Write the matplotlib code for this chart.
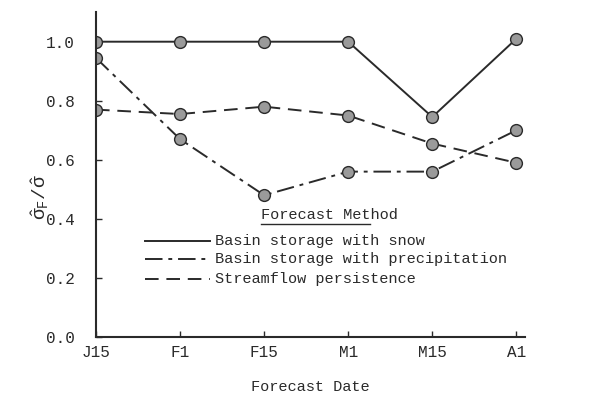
import matplotlib.pyplot as plt
from matplotlib.lines import Line2D

plt.rcParams["font.family"] = ["Liberation Mono", "DejaVu Sans"]
plt.rcParams["mathtext.fontset"] = "custom"
plt.rcParams["mathtext.rm"] = "Liberation Mono"
plt.rcParams["mathtext.it"] = "Liberation Mono"

dates = ["J15", "F1", "F15", "M1", "M15", "A1"]
snow = [1.0, 1.0, 1.0, 1.0, 0.745, 1.01]
precip = [0.945, 0.67, 0.48, 0.56, 0.56, 0.70]
streamflow = [0.77, 0.755, 0.78, 0.75, 0.655, 0.59]

ink = "#2a2a2a"
x = range(len(dates))

fig = plt.figure(figsize=(5.98, 4.03), dpi=100)
ax = fig.add_axes([0.1605, 0.1638, 0.717, 0.806])

mk = dict(marker="o", markersize=8.5, markerfacecolor="#9a9a9a",
          markeredgecolor=ink, markeredgewidth=1.0, color=ink, lw=1.4)
ax.plot(x, snow, linestyle="-", **mk)
ax.plot(x, precip, linestyle=(0, (9, 3, 2, 3)), **mk)
ax.plot(x, streamflow, linestyle=(0, (7, 4)), **mk)

ax.set_xlim(0, 5.1)
ax.set_ylim(0, 1.1)
ax.set_xticks(list(x))
ax.set_xticklabels(dates)
ax.set_yticks([0.0, 0.2, 0.4, 0.6, 0.8, 1.0])
ax.set_yticklabels(["0.0", "0.2", "0.4", "0.6", "0.8", "1.0"])
ax.tick_params(direction="in", length=4, width=1, colors=ink, labelsize=11.5)
ax.tick_params(axis="x", pad=6)
ax.tick_params(axis="y", pad=15)
for s in ["top", "right"]:
    ax.spines[s].set_visible(False)
for s in ["left", "bottom"]:
    ax.spines[s].set_linewidth(1.5)
    ax.spines[s].set_color(ink)

ax.set_xlabel("Forecast Date", fontsize=11, color=ink, labelpad=14)
ax.set_ylabel(r"$\hat{\sigma}_F/\hat{\sigma}$", fontsize=14, color=ink)
ax.yaxis.set_label_coords(-0.105, 0.43)

# legend drawn by hand, underlined title
ax.text(0.385, 0.355, "Forecast Method", transform=ax.transAxes,
        fontsize=11, color=ink, ha="left", va="bottom")
ax.add_line(Line2D([0.385, 0.64], [0.348, 0.348], transform=ax.transAxes,
                   color=ink, lw=1))
labels = ["Basin storage with snow", "Basin storage with precipitation",
          "Streamflow persistence"]
styles = ["-", (0, (9, 3, 2, 3)), (0, (7, 4))]
rows = [0.295, 0.24, 0.18]
for lab, ls, yy in zip(labels, styles, rows):
    ax.add_line(Line2D([0.115, 0.265], [yy, yy], transform=ax.transAxes,
                       color=ink, lw=1.4, linestyle=ls))
    ax.text(0.278, yy, lab, transform=ax.transAxes, fontsize=11,
            color=ink, ha="left", va="center")

fig.savefig("out.png", dpi=100)
